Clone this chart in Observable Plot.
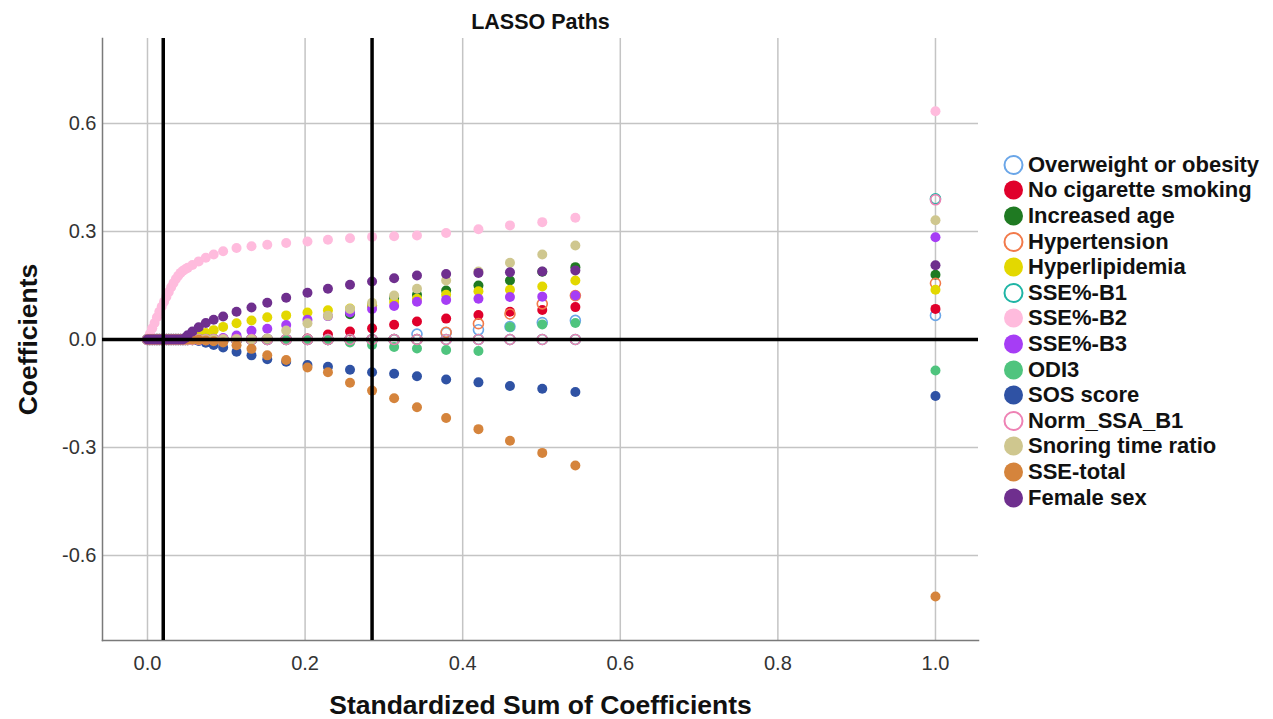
<!DOCTYPE html>
<html><head><meta charset="utf-8">
<script src="https://cdn.jsdelivr.net/npm/d3@7"></script>
<script src="https://cdn.jsdelivr.net/npm/@observablehq/plot@0.6"></script>
<style>
body{margin:0;background:#fff;font-family:"Liberation Sans",Arial,sans-serif;}
#wrap{position:relative;width:1273px;height:719px;}
#legend{position:absolute;left:1003px;top:152px;}
.item{display:flex;align-items:center;height:25.6px;font-weight:bold;font-size:22px;color:#111;white-space:nowrap;}
.item svg{margin-right:4px;flex:none;}
</style></head><body><div id="wrap"><div id="legend"></div></div>
<script>
// Standardized sum of coefficients at each step
const steps = [0, 0.003, 0.006, 0.009, 0.012, 0.015, 0.018, 0.021, 0.024, 0.027, 0.030, 0.033, 0.036, 0.039, 0.042, 0.045,
  0.048, 0.051, 0.057, 0.065, 0.074, 0.084, 0.096, 0.113, 0.132, 0.152, 0.176, 0.203, 0.229, 0.257, 0.285, 0.313, 0.342,
  0.379, 0.420, 0.460, 0.501, 0.543, 1.000];

const seriesNames = ["Overweight or obesity", "No cigarette smoking", "Increased age", "Hypertension", "Hyperlipidemia",
  "SSE%-B1", "SSE%-B2", "SSE%-B3", "ODI3", "SOS score", "Norm_SSA_B1", "Snoring time ratio", "SSE-total", "Female sex"];
const seriesColors = ["#6aa6e8", "#e0002b", "#1f7a22", "#f27a4a", "#e3d800", "#1fb5a5", "#ffbbdd", "#a63df5",
  "#4fc47e", "#2f52a4", "#ee82b4", "#cfc78f", "#d5843c", "#6f2f8e"];
const seriesHollow = [true, false, false, true, false, true, false, false, false, false, true, false, false, false];

const overweight = [0,0,0,0,0,0,0,0,0,0,0,0,0,0,0,0, 0,0,0,0,0,0,0,0,0,0,0,0,0,0,0,0,0.015, 0.019,0.027,0.036,0.047,0.053,0.067];
const noSmoking  = [0,0,0,0,0,0,0,0,0,0,0,0,0,0,0,0, 0,0,0,0,0,0,0,0,0,0,0,0.003,0.014,0.022,0.031,0.041,0.050, 0.058,0.068,0.077,0.082,0.090,0.085];
const age        = [0,0,0,0,0,0,0,0,0,0,0,0,0,0,0,0, 0,0,0,0,0,0,0,0,0,0,0,0,0,0.070,0.095,0.115,0.124, 0.136,0.150,0.164,0.188,0.201,0.180];
const hypertension=[0,0,0,0,0,0,0,0,0,0,0,0,0,0,0,0, 0,0,0,0,0,0,0,0,0,0,0,0,0,0,0,0,0, 0.020,0.044,0.071,0.099,0.122,0.156];
const hyperlipidemia=[0,0,0,0,0,0,0,0,0,0,0,0,0,0,0,0, 0,0,0.003,0.010,0.018,0.026,0.035,0.045,0.053,0.062,0.067,0.075,0.081,0.086,0.094,0.104,0.113, 0.124,0.134,0.138,0.147,0.164,0.138];
const sseB1      = [0,0,0,0,0,0,0,0,0,0,0,0,0,0,0,0, 0,0,0,0,0,0,0,0,0,0,0,0,0,0,0,0,0, 0,0,0,0,0,0.391];
const sseB2      = [0,0.015,0.031,0.046,0.062,0.077,0.091,0.105,0.119,0.132,0.145,0.157,0.168,0.177,0.185,0.191,
  0.195,0.199,0.207,0.217,0.227,0.236,0.245,0.254,0.259,0.263,0.268,0.272,0.277,0.281,0.285,0.287,0.289, 0.296,0.306,0.317,0.326,0.338,0.634];
const sseB3      = [0,0,0,0,0,0,0,0,0,0,0,0,0,0,0,0, 0,0,0,0,0,0,0.004,0.011,0.024,0.030,0.040,0.055,0.065,0.075,0.085,0.093,0.105, 0.110,0.113,0.118,0.119,0.122,0.284];
const odi3       = [0,0,0,0,0,0,0,0,0,0,0,0,0,0,0,0, 0,0,0,0,0,0,0,0,0,0,0,0,-0.002,-0.008,-0.015,-0.021,-0.025, -0.029,-0.032,0.035,0.042,0.046,-0.086];
const sos        = [0,0,0,0,0,0,0,0,0,0,0,0,0,0,0,0, 0,0,0,-0.004,-0.009,-0.015,-0.022,-0.034,-0.044,-0.055,-0.062,-0.071,-0.076,-0.084,-0.091,-0.095,-0.102, -0.111,-0.119,-0.129,-0.137,-0.146,-0.157];
const normSSA    = [0,0,0,0,0,0,0,0,0,0,0,0,0,0,0,0, 0,0,0,0,0,0,0,0,0,0,0,0,0,0,0,0,0, 0,0,0,0,0,0.388];
const snoring    = [0,0,0,0,0,0,0,0,0,0,0,0,0,0,0,0, 0,0,0,0,0,0,0,0,0,0.003,0.025,0.045,0.066,0.085,0.102,0.122,0.141, 0.164,0.189,0.213,0.236,0.261,0.331];
const sseTotal   = [0,0,0,0,0,0,0,0,0,0,0,0,0,0,0,0, 0,0,0,-0.001,-0.003,-0.005,-0.008,-0.016,-0.026,-0.044,-0.057,-0.078,-0.091,-0.120,-0.142,-0.163,-0.188, -0.218,-0.249,-0.281,-0.315,-0.350,-0.714];
const female     = [0,0,0,0,0,0,0,0,0,0,0,0,0,0,0,0, 0.004,0.012,0.022,0.034,0.046,0.055,0.064,0.077,0.089,0.102,0.116,0.130,0.141,0.152,0.161,0.170,0.178, 0.182,0.185,0.187,0.189,0.192,0.206];

const seriesValues = [overweight, noSmoking, age, hypertension, hyperlipidemia, sseB1, sseB2, sseB3, odi3, sos, normSSA, snoring, sseTotal, female];

const xTicks = [0, 0.2, 0.4, 0.6, 0.8, 1.0];
const yTicks = [-0.6, -0.3, 0, 0.3, 0.6];
const cutoffs = [0.020, 0.285];

const dotMarks = seriesValues.map((vals, i) => {
  const rows = vals.map((v, j) => ({x: steps[j], y: v, name: seriesNames[i]}));
  return seriesHollow[i]
    ? Plot.dot(rows, {x: "x", y: "y", r: 5, fill: "none", stroke: seriesColors[i], strokeWidth: 1.6})
    : Plot.dot(rows, {x: "x", y: "y", r: 5, fill: seriesColors[i], stroke: "none"});
});

const plot = Plot.plot({
  width: 1273, height: 719,
  marginLeft: 102, marginRight: 295, marginTop: 38, marginBottom: 79,
  x: {domain: [-0.0571, 1.0546]},
  y: {domain: [-0.8361, 0.8361]},
  style: {fontFamily: "'Liberation Sans', Arial, sans-serif", background: "white", color: "#222"},
  marks: [
    Plot.gridX(xTicks, {stroke: "#c4c4c4", strokeOpacity: 1, strokeWidth: 1.5}),
    Plot.gridY(yTicks.filter(d => d !== 0), {stroke: "#c4c4c4", strokeOpacity: 1, strokeWidth: 1.5}),
    Plot.frame({anchor: "left", stroke: "#7a7a7a", strokeWidth: 1.5}),
    Plot.frame({anchor: "bottom", stroke: "#7a7a7a", strokeWidth: 1.5}),
    ...dotMarks,
    Plot.ruleY([0], {stroke: "black", strokeWidth: 3.5}),
    Plot.ruleX(cutoffs, {stroke: "black", strokeWidth: 3.5}),
    Plot.axisX(xTicks, {tickSize: 0, tickPadding: 15, tickFormat: d => d.toFixed(1), fontSize: 20, fill: "#333", label: null}),
    Plot.axisY(yTicks, {tickSize: 0, tickPadding: 6, tickFormat: d => d.toFixed(1), fontSize: 20, fill: "#333", label: null}),
    Plot.text(["LASSO Paths"], {text: d => d, frameAnchor: "top", lineAnchor: "middle", textAnchor: "middle", dy: -16, fontSize: 21.5, fontWeight: "bold", fill: "#111"}),
    Plot.text(["Standardized Sum of Coefficients"], {text: d => d, frameAnchor: "bottom", lineAnchor: "middle", textAnchor: "middle", dy: 65, fontSize: 26.5, fontWeight: "bold", fill: "#111"}),
    Plot.text(["Coefficients"], {text: d => d, frameAnchor: "left", lineAnchor: "middle", textAnchor: "middle", dx: -74, rotate: -90, fontSize: 26.5, fontWeight: "bold", fill: "#111"})
  ]
});

const wrap = document.getElementById("wrap");
wrap.insertBefore(plot, wrap.firstChild);

const legend = document.getElementById("legend");
seriesNames.forEach((name, i) => {
  const item = document.createElement("div");
  item.className = "item";
  const c = seriesColors[i];
  const circ = seriesHollow[i]
    ? `<circle cx="10.5" cy="11" r="9" fill="white" stroke="${c}" stroke-width="2"/>`
    : `<circle cx="10.5" cy="11" r="9.5" fill="${c}"/>`;
  item.innerHTML = `<svg width="21" height="22">${circ}</svg><span>${name}</span>`;
  legend.appendChild(item);
});
</script>
</body></html>
